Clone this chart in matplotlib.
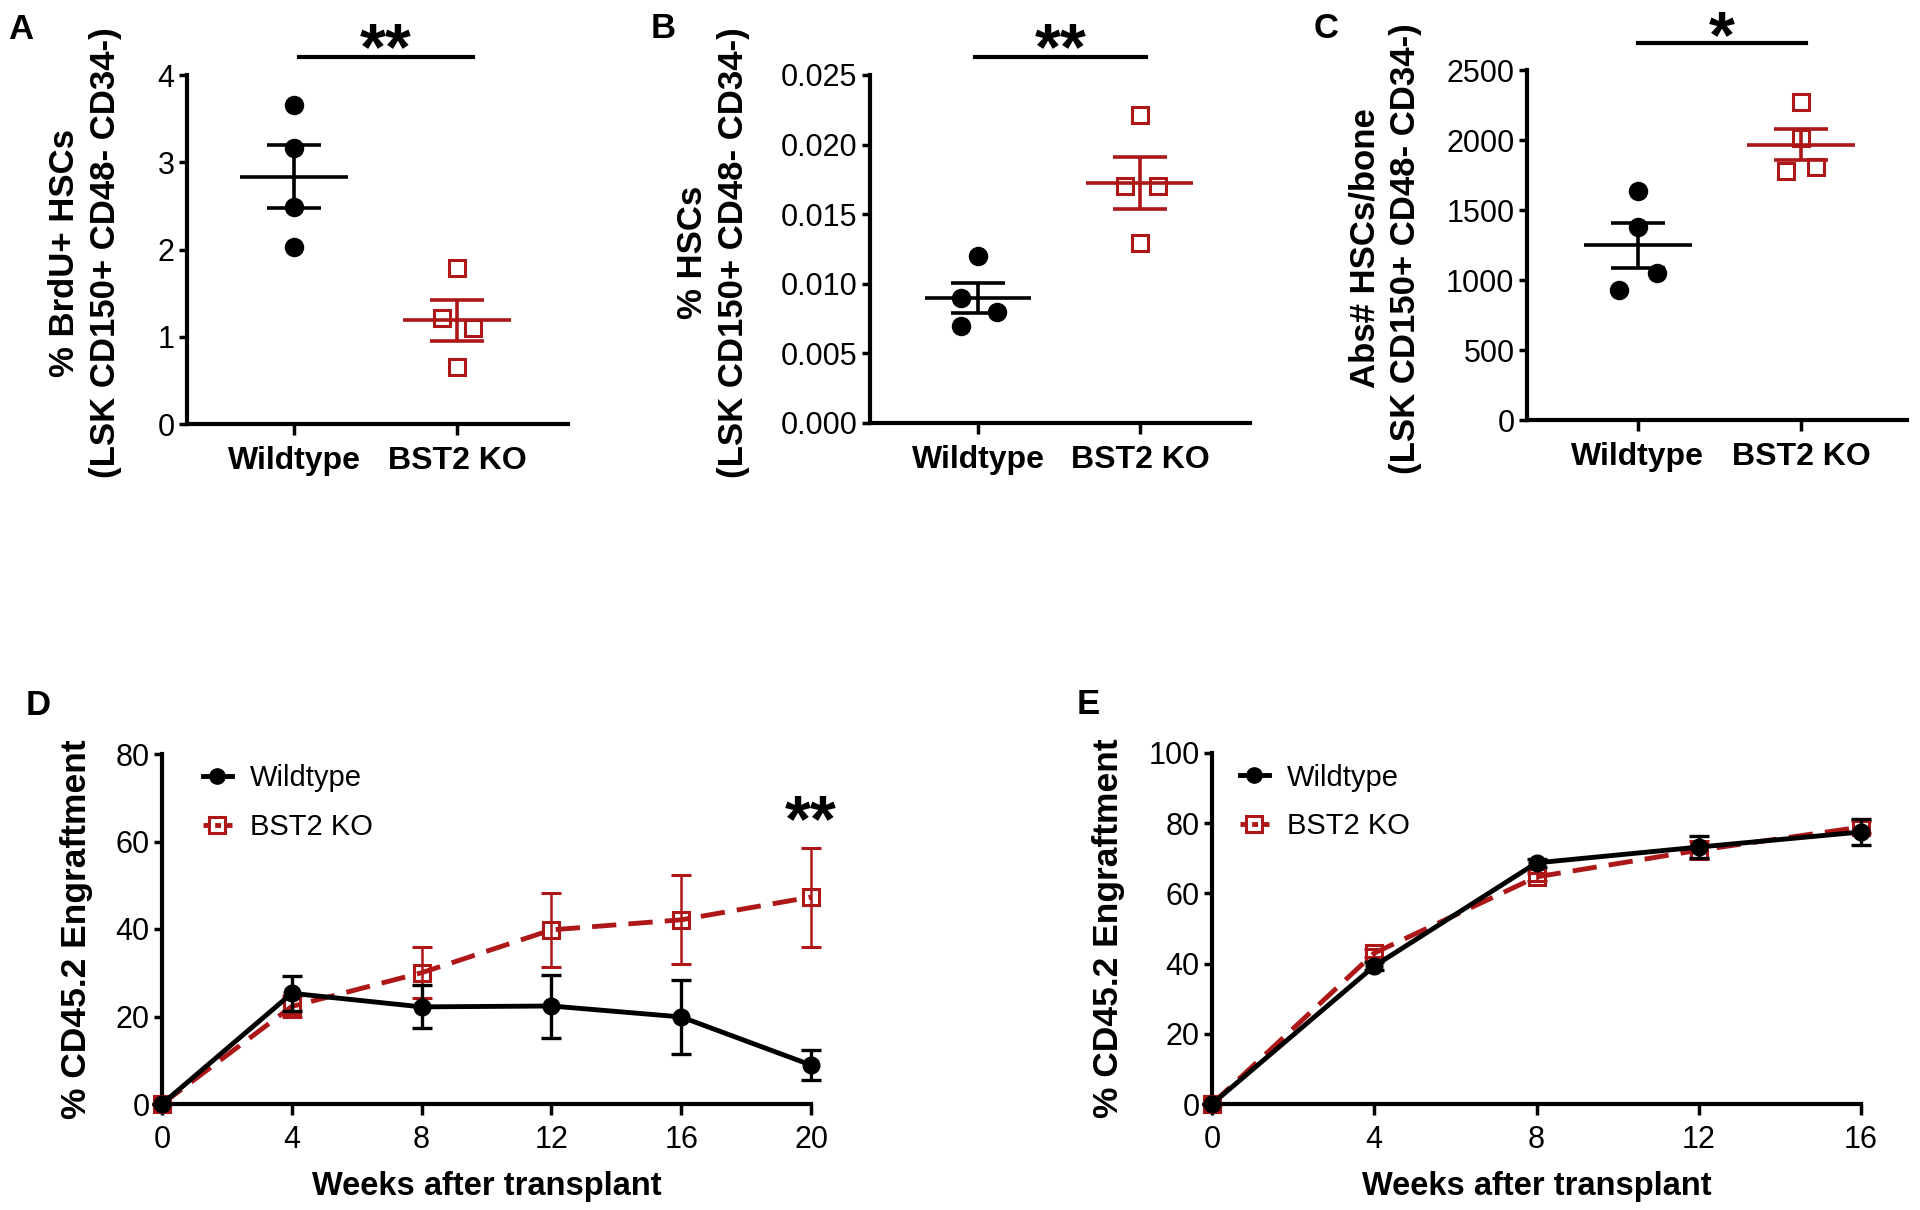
import numpy as np
import matplotlib
matplotlib.use("Agg")
import matplotlib.pyplot as plt
from matplotlib.lines import Line2D

plt.rcParams['font.family'] = ['Liberation Sans', 'DejaVu Sans']

# ---- data ----
groups = ["Wildtype", "BST2 KO"]

# A: % BrdU+ HSCs
a_wt = [3.66, 3.16, 2.49, 2.03]
a_ko = [1.79, 1.21, 1.10, 0.65]
# B: % HSCs
b_wt = [0.0120, 0.0090, 0.0080, 0.0070]
b_ko = [0.0221, 0.0170, 0.0170, 0.0129]
# C: Abs# HSCs/bone
c_wt = [1636, 1379, 1050, 929]
c_ko = [2271, 2014, 1779, 1807]

# D: engraftment, primary transplant
d_weeks = [0, 4, 8, 12, 16, 20]
d_wt = [0, 25.3, 22.2, 22.4, 19.9, 8.9]
d_wt_sem = [0, 4.0, 4.9, 7.2, 8.4, 3.4]
d_ko = [0, 22.3, 30.0, 39.8, 42.1, 47.3]
d_ko_sem = [0, 2.5, 5.8, 8.4, 10.2, 11.3]

# E: engraftment, second experiment
e_weeks = [0, 4, 8, 12, 16]
e_wt = [0, 39.3, 68.7, 73.2, 77.5]
e_wt_sem = [0, 1.2, 1.2, 3.2, 3.8]
e_ko = [0, 43.0, 64.7, 72.3, 78.9]
e_ko_sem = [0, 1.2, 1.2, 2.5, 1.6]

RED = '#AE1717'
STAR_FS = 48
W, H = 1920, 1210
fig = plt.figure(figsize=(W / 100, H / 100), dpi=100)


def px_axes(left, top, right, bottom):
    return fig.add_axes([left / W, 1 - bottom / H, (right - left) / W, (bottom - top) / H])


def style(ax):
    for s in ['top', 'right']:
        ax.spines[s].set_visible(False)
    for s in ['left', 'bottom']:
        ax.spines[s].set_linewidth(3)
    ax.tick_params(width=2.5, length=6, labelsize=22, direction='out', pad=3)


def stars(ax, x, y, s):
    ax.annotate(s, xy=(x, y), xytext=(0, -0.56 * STAR_FS), textcoords='offset points',
                ha='center', va='baseline', fontsize=STAR_FS, fontweight='bold',
                annotation_clip=False)


def dot_panel(ax, wt, ko, wt_dx, ko_dx, ymax, step, fmt, ylabel, sig, sig_x, sig_y, star_y):
    style(ax)
    for i, (vals, dx) in enumerate([(wt, wt_dx), (ko, ko_dx)]):
        vals = np.array(vals)
        x = i + np.array(dx)
        if i == 0:
            ax.plot(x, vals, 'o', color='black', markersize=13, clip_on=False, zorder=3)
            col = 'black'
        else:
            ax.plot(x, vals, 's', mfc='none', mec=RED, mew=2.2, markersize=12,
                    clip_on=False, zorder=3)
            col = RED
        m = vals.mean()
        se = vals.std(ddof=1) / np.sqrt(len(vals))
        ax.hlines(m, i - 0.33, i + 0.33, color=col, lw=2.6, zorder=4)
        ax.vlines(i, m - se, m + se, color=col, lw=2.6, zorder=4)
        ax.hlines([m - se, m + se], i - 0.165, i + 0.165, color=col, lw=2.6, zorder=4)
    ax.set_ylim(0, ymax)
    ax.set_yticks(np.arange(0, ymax + step / 2, step))
    ax.yaxis.set_major_formatter(plt.FormatStrFormatter(fmt))
    ax.set_xticks([0, 1])
    ax.set_xticklabels(groups, fontsize=23, fontweight='bold')
    ax.tick_params(axis='x', length=8, pad=8)
    ax.set_ylabel(ylabel, fontsize=25, fontweight='bold', linespacing=1.3)
    ax.plot(sig_x, [sig_y, sig_y], color='black', lw=3, clip_on=False)
    stars(ax, np.mean(sig_x), star_y, sig)


ax_a = px_axes(187, 75, 568, 424)
ax_a.set_xlim(-0.656, 1.68)
dot_panel(ax_a, a_wt, a_ko, [0, 0, 0, 0], [0, -0.09, 0.1, 0], 4, 1, '%d',
          "% BrdU+ HSCs\n(LSK CD150+ CD48- CD34-)", "**", [0.03, 1.1], 4.21, 4.49)
ax_a.yaxis.set_label_coords(-0.17, 0.49)

ax_b = px_axes(870, 75, 1250, 423)
ax_b.set_xlim(-0.667, 1.68)
dot_panel(ax_b, b_wt, b_ko, [0, -0.105, 0.117, -0.105], [0, -0.09, 0.11, 0], 0.025, 0.005, '%.3f',
          "% HSCs\n(LSK CD150+ CD48- CD34-)", "**", [-0.02, 1.04], 0.0263, 0.0281)
ax_b.yaxis.set_label_coords(-0.316, 0.49)

ax_c = px_axes(1527, 70, 1907, 420)
ax_c.set_xlim(-0.68, 1.65)
dot_panel(ax_c, c_wt, c_ko, [0, 0, 0.117, -0.117], [0, 0, -0.09, 0.09], 2500, 500, '%d',
          "Abs# HSCs/bone\n(LSK CD150+ CD48- CD34-)", "*", [0.0, 1.03], 2693, 2857)
ax_c.yaxis.set_label_coords(-0.276, 0.49)


def line_panel(ax, weeks, wt, wt_sem, ko, ko_sem, ymax):
    style(ax)
    ax.errorbar(weeks, ko, yerr=ko_sem, color=RED, ls=(0, (5, 2.5)), lw=3.5,
                marker='s', mfc='none', mec=RED, mew=2.2, markersize=12,
                ecolor=RED, elinewidth=1.8, capsize=7, capthick=1.8,
                clip_on=False, zorder=3)
    ax.errorbar(weeks, wt, yerr=wt_sem, color='black', lw=3.5,
                marker='o', markersize=12, ecolor='black', elinewidth=2.4,
                capsize=7, capthick=2.4, clip_on=False, zorder=4)
    ax.set_xlim(0, weeks[-1])
    ax.set_xticks(weeks)
    ax.set_ylim(0, ymax)
    ax.set_yticks(np.arange(0, ymax + 1, 20))
    ax.tick_params(axis='x', length=8, pad=7)
    ax.set_xlabel("Weeks after transplant", fontsize=23.5, fontweight='bold')
    ax.xaxis.set_label_coords(0.5, -0.19)
    ax.set_ylabel("% CD45.2 Engraftment", fontsize=25.5, fontweight='bold')
    handles = [
        Line2D([], [], color='black', lw=3.5, marker='o', markersize=11),
        Line2D([], [], color=RED, lw=3.5, ls=(0, (1.2, 1.2)), marker='s', mfc='none',
               mec=RED, mew=2.2, markersize=11),
    ]
    ax.legend(handles, groups, loc='upper left', frameon=False, fontsize=21,
              handlelength=1.0, handletextpad=0.6, labelspacing=0.7, borderpad=0,
              borderaxespad=0, bbox_to_anchor=(0.063, 0.97))


ax_d = px_axes(162, 754, 811, 1104)
line_panel(ax_d, d_weeks, d_wt, d_wt_sem, d_ko, d_ko_sem, 80)
ax_d.yaxis.set_label_coords(-0.106, 0.5)
stars(ax_d, 20, 68.6, "**")

ax_e = px_axes(1212, 753, 1861, 1104)
line_panel(ax_e, e_weeks, e_wt, e_wt_sem, e_ko, e_ko_sem, 100)
ax_e.yaxis.set_label_coords(-0.134, 0.5)
ax_e.get_legend().set_bbox_to_anchor((0.043, 0.97))

# panel letters
for x, y, s in [(8, 39, 'A'), (651, 38, 'B'), (1314, 38, 'C'), (26, 715, 'D'), (1077, 714, 'E')]:
    fig.text(x / W, 1 - y / H, s, fontsize=25, fontweight='bold', va='baseline', ha='left')

fig.savefig("out.png", dpi=100)
